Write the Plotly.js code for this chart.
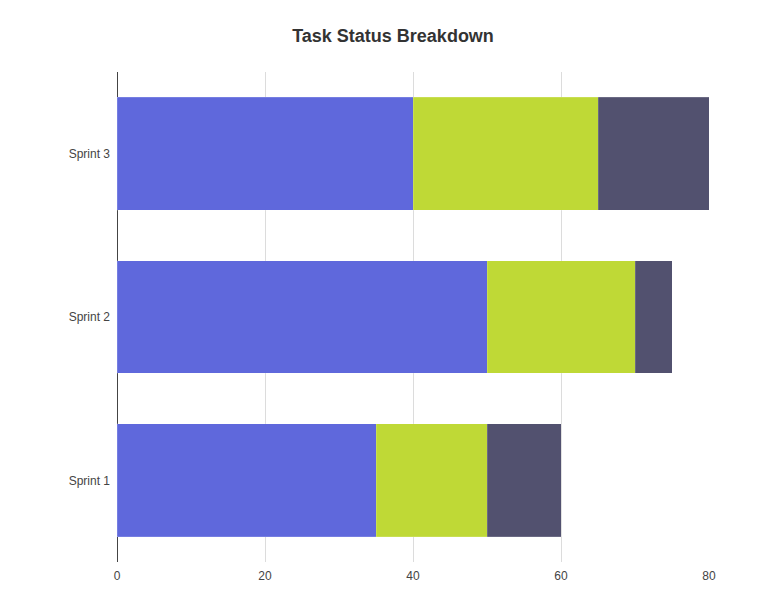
<!DOCTYPE html>
<html>
<head>
<meta charset="utf-8">
<script src="https://cdn.plot.ly/plotly-3.0.1.min.js"></script>
<style>
  html, body { margin: 0; padding: 0; background: #fff; }
  #plot { width: 770px; height: 611px; }
</style>
</head>
<body>
<div id="plot"></div>
<script>
// chart data
let sprints = ["Sprint 1", "Sprint 2", "Sprint 3"];
let seriesNames = ["Done", "In Progress", "To Do"];
let doneTasks = [35, 50, 40];
let inProgressTasks = [15, 20, 25];
let todoTasks = [10, 5, 15];
let xTicks = [0, 20, 40, 60, 80];

let barColors = ["#5f68dc", "#bfd936", "#52516f"];
let seriesValues = [doneTasks, inProgressTasks, todoTasks];

let traces = seriesValues.map(function (vals, i) {
  return {
    type: "bar",
    orientation: "h",
    name: seriesNames[i],
    y: sprints,
    x: vals,
    marker: {
      color: barColors[i],
      line: { color: "rgba(255,255,255,0.25)", width: 0.6 }
    },
    hoverinfo: "x+y+name"
  };
});

let layout = {
  barmode: "stack",
  bargap: 0.31,
  showlegend: false,
  width: 770,
  height: 611,
  margin: { l: 117, r: 61, t: 72, b: 49 },
  paper_bgcolor: "#fff",
  plot_bgcolor: "#fff",
  font: { family: "Liberation Sans, Arial, sans-serif", size: 12, color: "#444" },
  title: {
    text: "<b>Task Status Breakdown</b>",
    font: { family: "Liberation Sans, Arial, sans-serif", size: 18, color: "#333" },
    x: 0.5104,
    xanchor: "center",
    y: 0.942,
    yanchor: "middle"
  },
  xaxis: {
    range: [0, 80],
    tickvals: xTicks,
    ticktext: xTicks.map(String),
    showgrid: true,
    gridcolor: "#dcdcdc",
    gridwidth: 1,
    zeroline: true,
    zerolinecolor: "#444",
    zerolinewidth: 1,
    showline: false,
    ticks: "",
    ticklabelstandoff: 5,
    tickfont: { size: 12, color: "#444" }
  },
  yaxis: {
    categoryorder: "array",
    categoryarray: sprints,
    showgrid: false,
    zeroline: false,
    showline: false,
    ticks: "",
    ticklabelstandoff: 6,
    tickfont: { size: 12, color: "#444" }
  }
};

Plotly.newPlot("plot", traces, layout, { displayModeBar: false });
</script>
</body>
</html>
